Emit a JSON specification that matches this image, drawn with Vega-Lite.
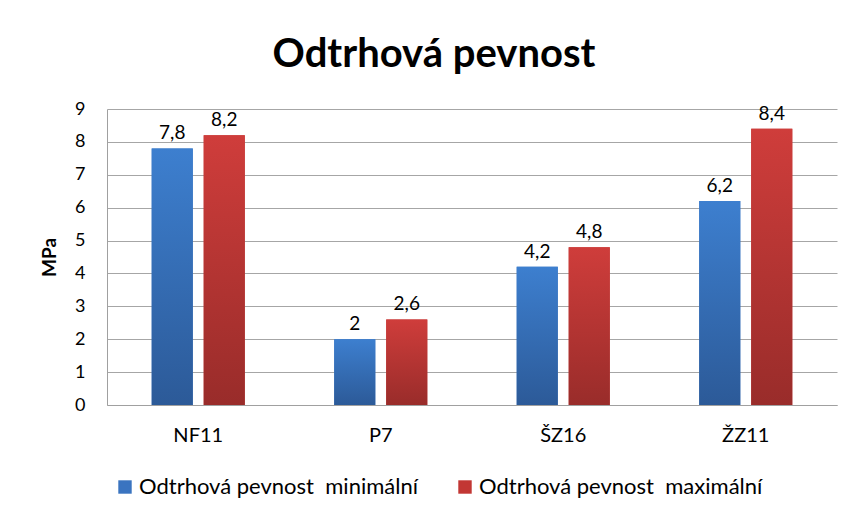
{
  "$schema": "https://vega.github.io/schema/vega-lite/v6.json",
  "width": 730,
  "height": 296,
  "autosize": {"type": "none"},
  "padding": {"left": 107, "top": 109, "right": 20, "bottom": 113},
  "background": "white",
  "title": {
    "text": "Odtrhová pevnost",
    "font": "Lato",
    "fontSize": 40,
    "fontWeight": "bold",
    "color": "#000000",
    "anchor": "middle",
    "dx": -38,
    "offset": 25
  },
  "config": {
    "locale": {"number": {"decimal": ",", "thousands": " ", "grouping": [3], "currency": ["", " Kč"]}},
    "view": {"stroke": null},
    "font": "Lato"
  },
  "data": {
    "values": [
      {"cat": "NF11", "series": "Odtrhová pevnost\u00a0 minimální", "value": 7.8},
      {"cat": "NF11", "series": "Odtrhová pevnost\u00a0 maximální", "value": 8.2},
      {"cat": "P7", "series": "Odtrhová pevnost\u00a0 minimální", "value": 2},
      {"cat": "P7", "series": "Odtrhová pevnost\u00a0 maximální", "value": 2.6},
      {"cat": "ŠZ16", "series": "Odtrhová pevnost\u00a0 minimální", "value": 4.2},
      {"cat": "ŠZ16", "series": "Odtrhová pevnost\u00a0 maximální", "value": 4.8},
      {"cat": "ŽZ11", "series": "Odtrhová pevnost\u00a0 minimální", "value": 6.2},
      {"cat": "ŽZ11", "series": "Odtrhová pevnost\u00a0 maximální", "value": 8.4}
    ]
  },
  "encoding": {
    "x": {
      "field": "cat",
      "type": "nominal",
      "sort": null,
      "scale": {"paddingInner": 0.49, "paddingOuter": 0.245},
      "axis": {
        "title": null,
        "labelAngle": 0,
        "labelFont": "Lato",
        "labelFontSize": 20,
        "labelColor": "#000000",
        "labelPadding": 20,
        "ticks": false,
        "domainColor": "#a0a0a0",
        "domainWidth": 1
      }
    },
    "xOffset": {
      "field": "series",
      "type": "nominal",
      "sort": null,
      "scale": {"paddingInner": 0.21, "paddingOuter": 0}
    },
    "y": {
      "field": "value",
      "type": "quantitative",
      "scale": {"domain": [0, 9], "nice": false},
      "axis": {
        "title": "MPa",
        "titleFont": "Lato",
        "titleFontSize": 19,
        "titleFontWeight": "bold",
        "titleColor": "#000000",
        "titlePadding": 15,
        "values": [0, 1, 2, 3, 4, 5, 6, 7, 8, 9],
        "labelFont": "Lato",
        "labelFontSize": 18,
        "labelColor": "#000000",
        "labelPadding": 22,
        "ticks": false,
        "grid": true,
        "gridColor": "#a6a6a6",
        "gridWidth": 1,
        "domainColor": "#a0a0a0",
        "domainWidth": 1
      }
    }
  },
  "layer": [
    {
      "mark": {"type": "bar"},
      "encoding": {
        "color": {
          "field": "series",
          "type": "nominal",
          "sort": null,
          "scale": {"range": ["#3a74c0", "#c23734"]},
          "legend": {
            "title": null,
            "orient": "none",
            "legendX": 7,
            "legendY": 367,
            "direction": "horizontal",
            "columns": 2,
            "columnPadding": 36,
            "symbolType": "square",
            "symbolSize": 180,
            "symbolStrokeWidth": 0,
            "labelFont": "Lato",
            "labelFontSize": 22,
            "labelColor": "#000000",
            "labelLimit": 400,
            "labelOffset": 3
          }
        }
      }
    },
    {
      "mark": {"type": "bar"},
      "encoding": {
        "fill": {
          "condition": {
            "test": "indexof(datum.series, 'minim') >= 0",
            "value": {"x1": 0, "y1": 0, "x2": 0, "y2": 1, "gradient": "linear", "stops": [{"offset": 0, "color": "#3d7fcf"}, {"offset": 1, "color": "#2c5a98"}]}
          },
          "value": {"x1": 0, "y1": 0, "x2": 0, "y2": 1, "gradient": "linear", "stops": [{"offset": 0, "color": "#cf3d3b"}, {"offset": 1, "color": "#992c2a"}]}
        }
      }
    },
    {
      "mark": {"type": "text", "baseline": "bottom", "dy": -5, "font": "Lato", "fontSize": 19, "color": "#000000"},
      "encoding": {
        "text": {"field": "value", "type": "quantitative", "format": ".1~f"}
      }
    }
  ]
}
